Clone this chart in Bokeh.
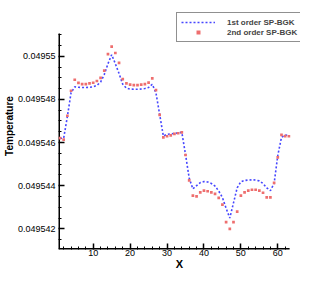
from bokeh.plotting import figure
from bokeh.models import FixedTicker, PrintfTickFormatter, Legend, LegendItem
from bokeh.embed import file_html
from bokeh.resources import INLINE

# ---- data ----
x = list(range(1, 64))
first_order = [
    0.0495462, 0.0495462, 0.0495472, 0.0495483, 0.04954858, 0.04954856, 0.04954855, 0.04954855,
    0.04954856, 0.04954858, 0.04954865, 0.0495488, 0.04954915, 0.04954965, 0.04955007, 0.04954965,
    0.0495492, 0.0495487, 0.04954852, 0.04954848, 0.04954847, 0.04954847, 0.04954848, 0.0495485,
    0.04954855, 0.0495487, 0.0495483, 0.0495473, 0.0495463, 0.04954638, 0.0495464, 0.04954642,
    0.04954645, 0.04954647, 0.04954545, 0.04954435, 0.04954385, 0.049544, 0.04954414, 0.04954419,
    0.04954417, 0.0495441, 0.04954398, 0.04954375, 0.04954345, 0.04954295, 0.0495425, 0.0495432,
    0.0495439, 0.04954418, 0.04954424, 0.04954426, 0.04954427, 0.04954426, 0.04954422, 0.0495441,
    0.0495439, 0.04954377, 0.0495441, 0.0495454, 0.04954624, 0.04954635, 0.04954633,
]
second_order = [
    0.0495462, 0.04954613, 0.04954724, 0.0495484, 0.04954891, 0.04954876, 0.04954871, 0.04954871,
    0.04954874, 0.04954877, 0.04954885, 0.049549, 0.04954933, 0.0495501, 0.04955044, 0.04955015,
    0.04954969, 0.04954894, 0.04954874, 0.04954868, 0.04954866, 0.04954866, 0.04954868, 0.04954871,
    0.04954878, 0.04954897, 0.04954843, 0.04954728, 0.04954624, 0.04954629, 0.04954633, 0.0495464,
    0.04954643, 0.04954647, 0.04954542, 0.04954424, 0.04954354, 0.0495435, 0.04954369, 0.04954377,
    0.04954374, 0.04954369, 0.04954362, 0.04954343, 0.04954312, 0.04954231, 0.049542, 0.04954231,
    0.0495428, 0.04954354, 0.04954369, 0.04954377, 0.04954381, 0.04954381, 0.04954377, 0.04954367,
    0.04954346, 0.04954346, 0.04954413, 0.04954531, 0.04954635, 0.0495463, 0.04954629,
]
series_labels = ["1st order SP-BGK", "2nd order SP-BGK"]
x_ticks = [10, 20, 30, 40, 50, 60]
x_minor = [2, 4, 6, 8, 12, 14, 16, 18, 22, 24, 26, 28, 32, 34, 36, 38, 42, 44, 46, 48,
           52, 54, 56, 58, 62]
y_ticks = [0.049542, 0.049544, 0.049546, 0.049548, 0.04955]
y_minor = [0.049541, 0.0495415, 0.0495425, 0.049543, 0.0495435, 0.0495445, 0.049545,
           0.0495455, 0.0495465, 0.049547, 0.0495475, 0.0495485, 0.049549, 0.0495495,
           0.0495505, 0.049551]

# axis extents (where the drawn axis lines end)
X_LO, X_HI = 0.6, 63.2
Y_LO, Y_HI = 0.04954104, 0.04955105
# frame extents (larger, so the legend box fits inside the frame)
X_FRAME_HI = 66.15
Y_FRAME_HI = 0.04955249

FONT = "Liberation Sans"

p = figure(width=300, height=273, x_range=(X_LO, X_FRAME_HI), y_range=(Y_LO, Y_FRAME_HI),
           output_backend="svg", toolbar_location=None,
           min_border_left=49, min_border_top=2, min_border_right=0, min_border_bottom=24)
p.xgrid.visible = False
p.ygrid.visible = False
p.outline_line_color = None
p.background_fill_color = "white"
p.border_fill_color = "white"

for ax in (p.xaxis[0], p.yaxis[0]):
    ax.axis_line_color = None
    ax.major_tick_line_color = "black"
    ax.minor_tick_line_color = "black"
    ax.major_tick_line_width = 1.5
    ax.minor_tick_line_width = 1
    ax.major_tick_in = 6
    ax.major_tick_out = 0
    ax.minor_tick_in = 3
    ax.minor_tick_out = 0
    ax.major_label_text_font = FONT
    ax.major_label_text_font_size = "9px"
    ax.major_label_text_color = "black"
    ax.axis_label_text_font = FONT
    ax.axis_label_text_font_style = "bold"
    ax.axis_label_text_color = "black"

p.xaxis[0].ticker = FixedTicker(ticks=x_ticks, minor_ticks=x_minor)
p.yaxis[0].ticker = FixedTicker(ticks=y_ticks, minor_ticks=y_minor)
p.yaxis[0].formatter = PrintfTickFormatter(format="%.7g")
p.xaxis[0].axis_label = "X"
p.yaxis[0].axis_label = "Temperature"
p.xaxis[0].axis_label_text_font_size = "11px"
p.yaxis[0].axis_label_text_font_size = "10px"
p.xaxis[0].major_label_standoff = 0
p.xaxis[0].axis_label_standoff = -1
p.yaxis[0].major_label_standoff = 3
p.yaxis[0].axis_label_standoff = 0

# axis lines, only as long as the reference's axes
p.segment(x0=[X_LO, X_LO], y0=[Y_LO, Y_LO], x1=[X_HI, X_LO], y1=[Y_LO, Y_HI],
          line_color="black", line_width=3)

line = p.line(x, first_order, line_color="#4646ff", line_width=1.6, line_dash="2 2")
pts = p.scatter(x, second_order, marker="square", size=2.7, fill_color="#ee6e6e",
                line_color=None)

legend = Legend(items=[LegendItem(label=series_labels[0], renderers=[line]),
                       LegendItem(label=series_labels[1], renderers=[pts])],
                location=(118, 207))
legend.border_line_color = "#222222"
legend.border_line_width = 1
legend.background_fill_color = "white"
legend.background_fill_alpha = 1
legend.label_text_font = FONT
legend.label_text_font_style = "bold"
legend.label_text_font_size = "8px"
legend.label_text_baseline = "middle"
legend.glyph_width = 34
legend.glyph_height = 10
legend.label_height = 10
legend.label_standoff = 12
legend.padding = 4
legend.spacing = 0
legend.margin = 0
p.add_layout(legend)

open("out.html", "w").write(file_html(p, INLINE))
